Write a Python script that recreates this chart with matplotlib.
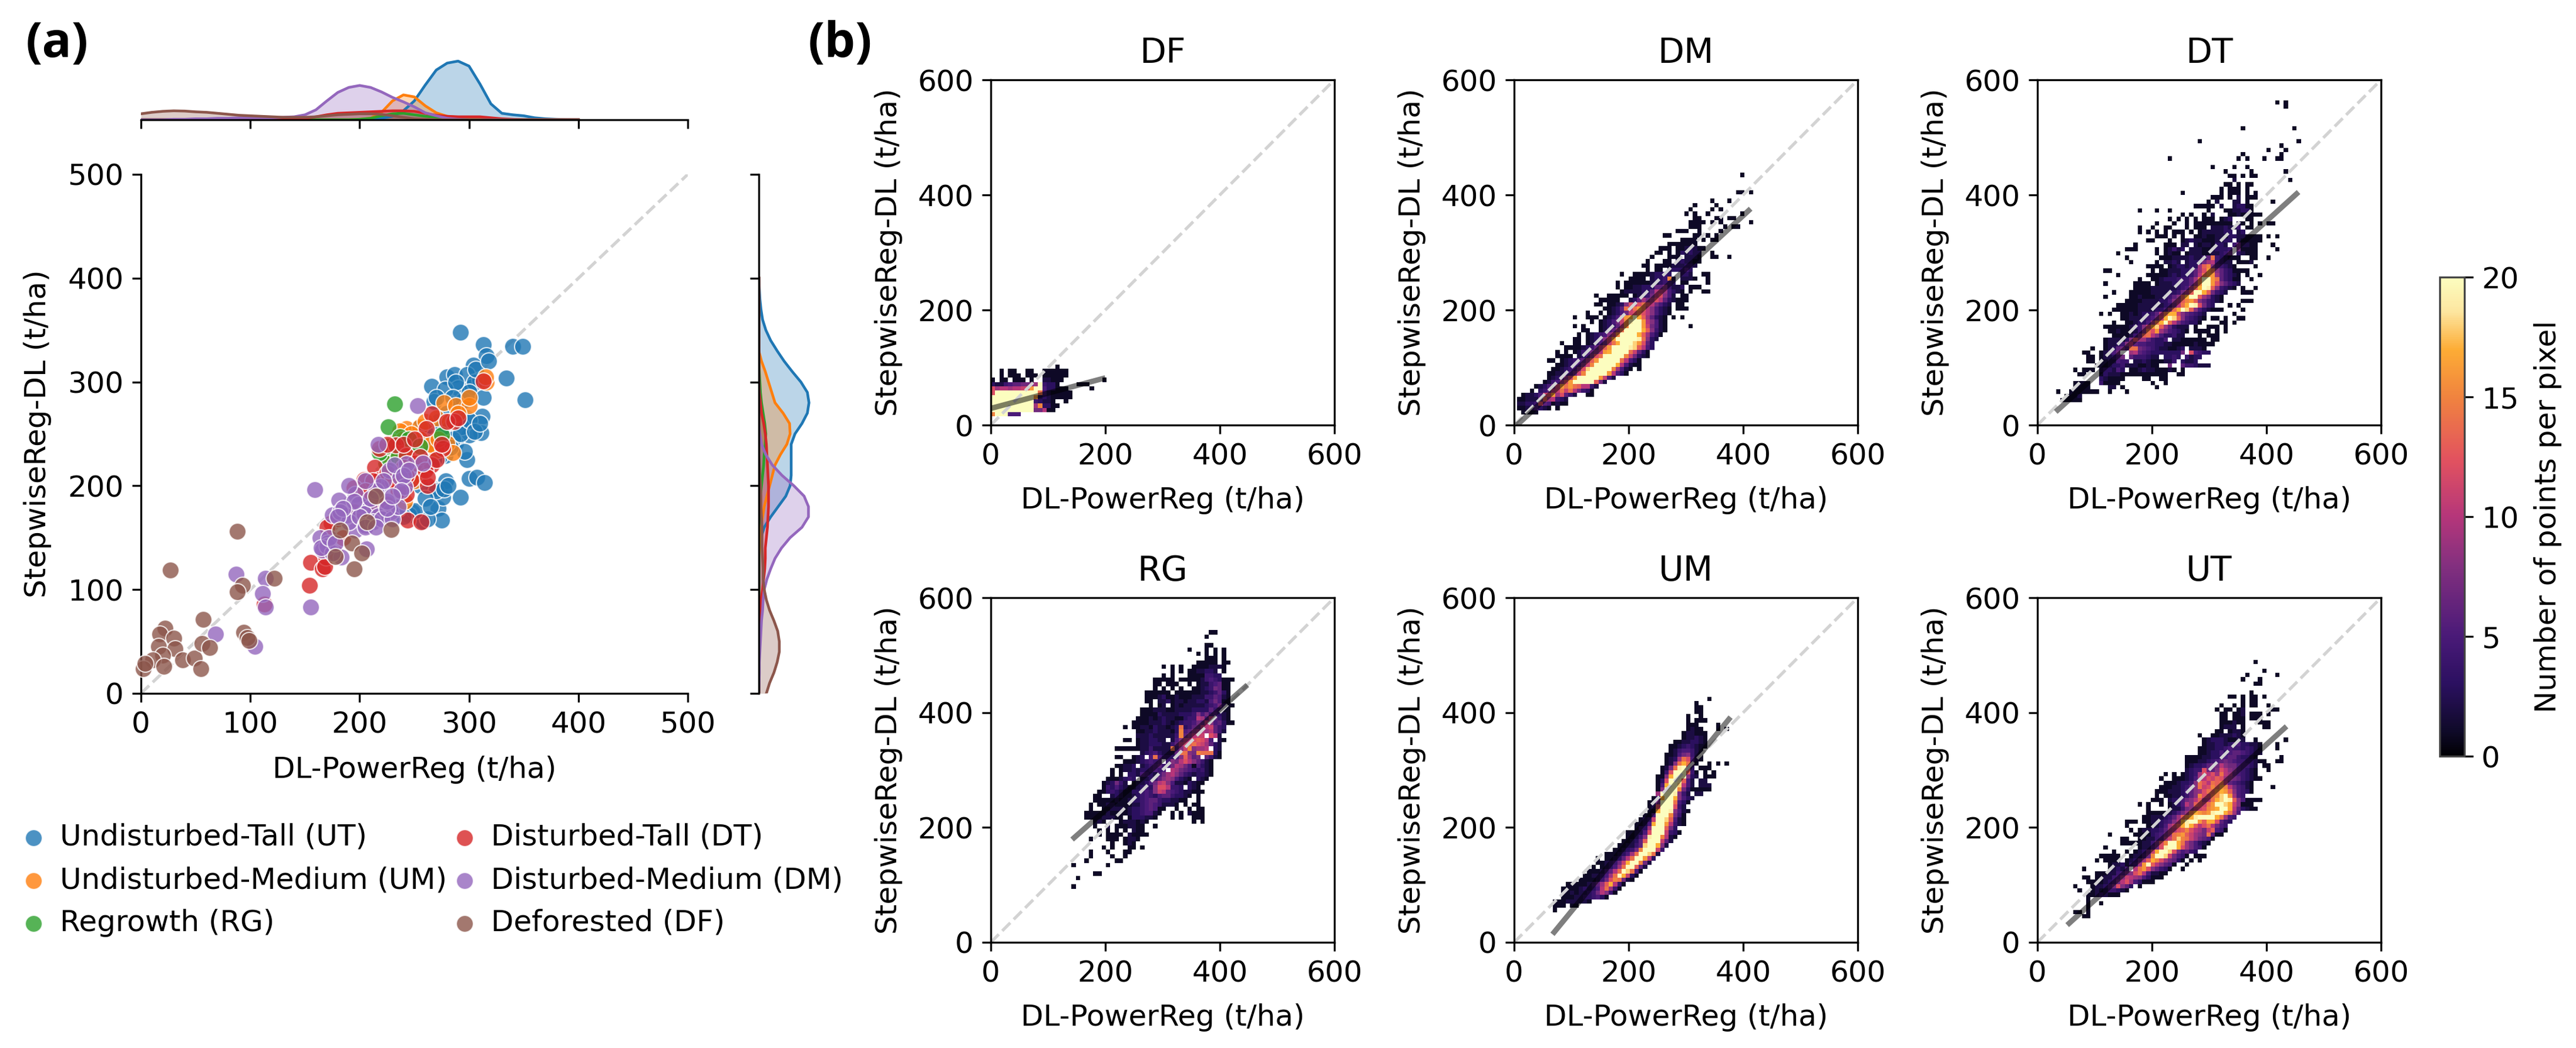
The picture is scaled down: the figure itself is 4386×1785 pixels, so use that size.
#!/usr/bin/env python3
"""Biomass comparison figure: joint scatter (a) and per-class density grids (b)."""
import matplotlib

matplotlib.use("Agg")
import matplotlib.pyplot as plt  # noqa: E402
import numpy as np  # noqa: E402
from matplotlib.colors import LinearSegmentedColormap  # noqa: E402

W, H = 4386, 1785
DPI = 300
XLABEL = "DL-PowerReg (t/ha)"
YLABEL = "StepwiseReg-DL (t/ha)"
BIN = 7.5

# --- panel (a) points
UT_X = [292, 313, 316, 340, 349, 334, 351, 304, 266, 280, 287, 298, 290, 303, 310, 268, 278, 312, 311, 300, 288, 298, 298, 300, 307, 314, 279, 292, 272, 275, 258, 276, 268, 253, 266, 278, 248, 283, 293, 258, 262, 270, 277, 281, 273, 270, 280, 258, 265, 272, 285, 292, 300, 305, 290, 280, 295, 305, 300, 288, 270, 285, 245, 250, 240, 235, 262, 275, 290, 246, 240, 250, 255, 260, 265, 268, 310, 296, 283, 313, 306, 318]
UT_Y = [348, 336, 325, 334, 334, 304, 283, 316, 296, 305, 307, 307, 294, 295, 302, 281, 293, 267, 251, 249, 241, 265, 225, 207, 208, 203, 205, 189, 178, 167, 166, 189, 197, 255, 232, 229, 175, 255, 257, 166, 168, 195, 197, 200, 228, 240, 245, 250, 258, 262, 245, 250, 263, 252, 275, 270, 282, 300, 290, 300, 285, 285, 172, 176, 170, 178, 240, 255, 265, 235, 215, 215, 200, 188, 180, 225, 260, 233, 237, 285, 312, 320]
UM_X = [316, 277, 288, 300, 243, 249, 237, 280, 270, 228, 241, 255, 232, 240, 247, 255, 260, 270, 282, 290, 230, 245, 238, 255, 250, 265, 285, 272, 300, 315]
UM_Y = [300, 280, 277, 277, 255, 246, 253, 241, 234, 227, 185, 257, 242, 245, 250, 245, 262, 265, 262, 270, 215, 230, 220, 210, 205, 240, 232, 245, 285, 305]
RG_X = [232, 226, 237, 275, 224, 218, 225, 245, 255, 235]
RG_Y = [279, 257, 247, 249, 222, 232, 238, 245, 238, 228]
DT_X = [313, 266, 286, 261, 233, 218, 276, 243, 214, 204, 247, 266, 262, 243, 174, 155, 166, 169, 154, 113, 244, 256, 218, 225, 240, 250, 255, 240, 225, 212, 195, 205, 215, 225, 235, 243, 260, 270, 280, 290, 195, 180, 205, 170, 168, 178, 185, 230, 262, 250, 275]
DT_Y = [301, 269, 262, 255, 239, 236, 236, 229, 218, 206, 206, 220, 200, 192, 164, 126, 120, 131, 104, 86, 167, 165, 206, 240, 240, 222, 228, 218, 212, 205, 198, 190, 180, 182, 195, 210, 215, 225, 262, 265, 175, 168, 195, 160, 122, 135, 150, 205, 208, 245, 240]
DM_X = [159, 87, 114, 111, 114, 155, 68, 104, 253, 217, 258, 227, 243, 237, 241, 181, 196, 199, 209, 219, 228, 189, 204, 217, 164, 171, 166, 183, 206, 196, 175, 182, 190, 200, 205, 212, 220, 230, 235, 225, 215, 205, 195, 185, 210, 222, 232, 240, 190, 180, 170, 175, 165, 172, 178, 205, 215, 225, 245, 238, 230]
DM_Y = [196, 115, 111, 96, 83, 83, 57, 45, 277, 240, 222, 215, 221, 208, 199, 186, 192, 182, 178, 199, 175, 172, 173, 171, 150, 145, 138, 131, 139, 157, 172, 175, 165, 170, 162, 165, 168, 168, 180, 185, 195, 205, 185, 178, 188, 205, 220, 210, 200, 170, 142, 135, 140, 150, 145, 160, 160, 178, 215, 195, 190]
DF_X = [27, 88, 93, 88, 57, 22, 17, 30, 16, 31, 20, 11, 38, 49, 56, 63, 55, 21, 2, 4, 94, 97, 99, 122, 182, 193, 202, 178, 195, 229, 207, 215]
DF_Y = [119, 156, 104, 98, 71, 63, 57, 53, 45, 43, 37, 32, 32, 34, 48, 44, 24, 26, 24, 29, 59, 54, 51, 111, 157, 145, 135, 132, 120, 158, 165, 190]

# --- panel (a) margins: curve heights at every 10 t/ha from 0 to 400
GRID = list(range(0, 410, 10))
TOP_UT = [0] * 20 + [0.5, 1, 3, 7, 18, 38, 70, 100, 114, 118, 108, 72, 32, 13, 10, 8, 4, 2, 1, 0.3, 0]
TOP_UM = [0] * 19 + [0, 1, 3, 15, 38, 50, 46, 28, 14, 7, 5, 4, 3, 3, 1, 0.5] + [0] * 6
TOP_RG = [0] * 19 + [0, 1, 3, 8, 12, 13, 10, 7, 5, 2, 1] + [0] * 11
TOP_DT = [0] * 13 + [1, 2, 3, 6, 10, 13, 14, 15, 16, 17, 18, 18, 17, 13, 9, 7, 6, 6, 6, 4, 2, 1] + [0] * 6
TOP_DM = [0, 0, 0, 1, 1, 2, 2, 3, 3, 4, 4, 4, 4, 5, 6, 10, 20, 38, 55, 65, 69, 65, 56, 45, 36, 26, 14, 8, 3, 1] + [0] * 11
TOP_DF = [12, 15, 17, 18, 17.5, 16, 15, 13, 11, 9, 8, 7, 6, 5, 5, 5, 6, 8, 10, 11, 12, 12, 11, 8, 5, 2, 1] + [0] * 14

RIGHT_UT = [0] * 14 + [1, 4, 10, 22, 36, 50, 58, 60, 60, 60, 60, 67, 80, 90, 93, 90, 78, 62, 47, 34, 22, 13, 7, 4, 2, 1, 0]
RIGHT_UM = [0] * 14 + [1, 2, 4, 7, 10, 15, 20, 25, 30, 40, 52, 58, 57, 45, 30, 24, 18, 12, 5] + [0] * 8
RIGHT_RG = [0] * 17 + [1, 2, 3, 5, 7, 9, 10, 12, 13, 11, 8, 5, 3, 2, 1] + [0] * 9
RIGHT_DT = [0] * 6 + [0.5, 1, 3, 4, 7, 9, 11, 12, 12, 14, 16, 17, 18, 18, 18, 17, 16, 15, 14, 12, 9, 5, 3, 1] + [0] * 11
RIGHT_DM = [0, 0.5, 1, 1, 2, 3, 4, 5, 7, 8, 10, 15, 22, 30, 42, 58, 80, 92, 92, 84, 65, 43, 25, 13, 5, 2] + [0] * 15
RIGHT_DF = [14, 20, 28, 34, 38, 38, 35, 28, 20, 14, 10, 8, 8, 7, 6, 6, 6, 5, 4, 4, 3, 2, 1] + [0] * 18

# --- panel (b) grids. One string per row from the top, "col:counts" runs,
# counts as 1-9 then a=10 ... k=20
DF_X0, DF_YTOP = 0, 105
DF_ROWS = [
    "15:1",
    "2:1 4:11 8:11 12:111111",
    "2:1 4:111 8:111 12:111111",
    "0:1 2:11 5:111 9:1 12:22111 26:1",
    "0:3 1:22 3:4 4:5 5:66 7:778 10:9 11:k 12:433 15:1 20:111",
    "0:c 1:9aa 4:9a 6:ab 8:c 9:g 10:k 11:k 12:533 15:111 23:1",
    "0:c 1:kkkkkkkkk 10:k 11:e 12:42 14:11111",
    "0:kkkkkkkkkk 10:g 11:2 12:3 13:21 15:111 18:1",
    "0:kkkkkkkkkk 10:43 12:22 14:1 17:1",
    "0:kkkkkkkkkk 10:9 11:f 12:3 13:31 15:1",
    "0:kkkkkkkkkk 10:77 12:a 13:1 14:1",
    "0:f 1:kkk 4:5 5:55",
]

DM_X0, DM_YTOP = 12.3, 438.5
DM_ROWS = [
    "51:1", "", "", "",
    "50:11 53:1",
    "",
    "44:1 48:1",
    "40:1 45:1",
    "39:1 44:1 46:1",
    "38:1 40:1 43:1 51:1",
    "40:11 45:1 46:1 48:11",
    "39:111 42:1 44:1 46:1 53:1",
    "39:111 47:1 49:11",
    "36:111 41:1 46:1",
    "33:11 40:11 43:1 45:1",
    "37:1111 42:1 44:11",
    "34:111111 39:11",
    "32:111 36:1 37:123211",
    "31:11 34:1 36:132322 44:1",
    "30:1 34:111 38:2 39:2 40:21 44:11 48:1",
    "29:1 33:11 36:2322 40:1 41:1",
    "28:11 31:111 34:1222332",
    "29:1 31:1 32:1 34:233353",
    "23:1 26:1111 30:23343 37:332 42:11",
    "25:1111 30:23 32:344 34:f 35:2 37:222 40:1 43:1",
    "22:1 24:111111 30:22 32:3443 37:1 38:1 43:1",
    "22:1 24:1 25:122 28:333 31:66 33:8 34:4 35:22 37:3 39:111",
    "23:1222 27:233 30:6a 32:a9 34:53 36:21 39:1 42:11",
    "17:1 20:11111 26:1 27:234 30:7 31:a 32:c 33:8 34:5 35:2 37:11",
    "18:11111 25:2 26:3 27:6 28:9 29:7 30:9 31:c 32:a 33:6 34:3 35:2 36:111",
    "17:11 20:1123 24:8caceca7532 36:11",
    "19:1 20:123 23:6eaegea8532 34:1 36:111",
    "15:1 18:1 20:123 23:5 24:7bc 27:e 28:ca 30:8 31:5 32:321",
    "12:1 15:111 19:123 22:5 23:cgh 26:k 27:h 28:d 29:9 30:6 31:3 32:21 35:1 37:1",
    "16:1 18:1235 22:7 23:bfjk 27:kg 29:a 30:85 32:21",
    "12:1 14:1 18:1234 22:6 23:afkkkg 29:b 30:75 32:21 39:1",
    "14:11 18:1246 22:9ekkkkh 29:d 30:8 31:421",
    "13:1 15:1234 19:5 20:8 21:afkkkkh 28:d 29:9 30:531",
    "12:1 13:1 15:1235 19:8bgkkkkkj 28:e 29:8 30:32",
    "9:1 12:11 15:1235 19:7behkkkig 28:c 29:63",
    "10:111 13:123 16:46 18:adgkkkkji 27:d 28:a 29:53",
    "8:1 10:1 12:124 15:578a 19:ghkkkki 25:e 26:b 27:6 28:31",
    "8:111 11:1 13:235 16:8ce 19:kkkkkf 25:b 26:7 27:32 29:1",
    "6:11 9:123 12:456 15:9dgk 19:kkkke 24:a 25:53 27:1",
    "8:11 10:234 13:58b 16:fkkkkkh 23:a 24:5 25:21 27:1",
    "7:112 10:345 13:8c 15:ikkkkkf 22:9 23:5 24:2 25:1 27:1",
    "6:1122 10:457 13:bfkkkkkg 21:a 22:53 24:1",
    "6:123 9:58 11:bg 13:kkkkkg 19:b 20:5 21:2",
    "5:124 8:59 10:cg 12:kkkkkd 18:7 19:2",
    "3:1 4:235 7:7bg 10:eg 12:ed 14:a 15:a 16:4 17:2",
    "2:1 4:346 7:abeb 11:e 12:a 13:7 14:4 15:3 16:1",
    "0:1 1:223 4:5 5:b 6:cg 8:9 9:c 10:6 11:4 12:2 15:11",
    "-1:11222 4:6 5:d 6:9 7:a 8:4 9:3 10:2",
    "-1:2233 3:4 4:c 5:6 6:5 7:11 8:2 9:1 10:1",
    "-1:1123 3:5 4:3 5:2 6:1 8:1",
    "0:11 2:1 3:1",
]

DT_X0, DT_YTOP = 62.6, 564.5
DT_ROWS = [
    "47:1 49:1", "49:1", "",
    "", "", "",
    "39:1 51:1",
    "", "",
    "29:1 52:1",
    "48:1",
    "45:1 49:1",
    "39:1 48:1",
    "22:1 38:1 40:1 44:1 47:11",
    "",
    "32:1 37:1 40:1",
    "35:1 41:1 49:1",
    "36:11 39:1 41:11",
    "37:2 50:1",
    "35:11 38:1 40:11",
    "34:1 36:11 38:1 40:1",
    "25:1 34:1 36:11 38:1 40:1 42:1",
    "32:11 34:1 36:1 38:2 40:111",
    "31:1 33:2 37:22 40:1 46:1",
    "28:11111 34:2 37:23311",
    "15:1 19:1 22:1 31:1 35:1122331",
    "25:1 27:1 30:1 32:2 36:11211111",
    "22:1 24:1 26:1 28:1 30:111 34:123 40:11",
    "19:1 23:1 26:1 28:111111111 38:21 41:1 43:1 45:11",
    "15:1 18:1 21:11 26:1 28:111 32:2223224 40:11",
    "15:1 17:1 19:1 21:1 23:111 27:1 29:12222233 38:23",
    "19:111 23:1 25:1 28:11211221 36:3322 40:111 43:1 45:1 47:1",
    "17:11 22:1 25:12322111 33:2233 38:211111",
    "14:1 21:111 25:22 28:21221 33:332 37:4722 41:11 46:1",
    "12:111 19:1 21:12423 27:222112 33:3334 38:71111 47:1",
    "10:1 19:1 21:1211 26:1222112 33:2346 38:3211 42:1",
    "12:1 20:1112222322 30:46e43 35:2111 41:11 45:1",
    "13:1 19:1 21:2232 26:2334 30:79a4322 38:11 40:12",
    "17:1111 22:1233 26:2334 29:9df8543 36:21 42:1",
    "7:11 18:1 20:1122 24:2334 28:69cge 33:8643 37:1111",
    "10:1 17:11111 22:2323 26:34 28:6aegg9 34:6432 38:1 40:1 43:1",
    "15:1 18:1123 22:3344 26:46 28:9ekkge 34:643 37:1 38:1 41:1",
    "7:1 14:1111 19:1222 23:3344 27:69fkkgc 34:86432",
    "14:1111222222 24:3459dhkjd8 34:4321 39:1 42:1",
    "9:1 13:111112222 22:3 23:3479dkkhd7 33:432 39:111",
    "7:1 13:112 16:111223 22:468dhkkd97 32:321",
    "12:1111222233 22:589dfgd86 31:4321 34:1 39:111",
    "10:111112222 19:2234 23:7aehkjc7 31:43 36:1 38:1",
    "9:111111222 18:233 21:59ehkid85 30:321 32:111 39:1",
    "6:1 8:1 11:11212 16:33 18:46aehhb865 28:432 37:1",
    "11:11222 16:345 19:7bhkid85 27:4321 32:11 35:1 38:11",
    "9:1 12:1123 16:3 17:59ehkea75 26:4331 34:11 37:1",
    "7:1111 11:1124 15:4 16:8bgid964 23:3222 28:1 31:111 35:1",
    "8:11211 13:124 16:8ecg9754 24:321 28:1111 33:1 35:1",
    "9:111 12:12 14:47de 18:a85334 24:22 29:1 31:111",
    "7:12221 12:38 14:c9 16:96 18:4335 23:2211 27:1111 32:11",
    "7:122 10:3 11:48 13:a6 15:5544332 22:2111 26:112 29:11 31:11",
    "4:1 7:12 9:36 11:7 12:5ee7 16:6543 20:22 22:111 24:23 27:2221",
    "2:11 6:1 7:24 9:5 10:7 13:9 14:a654 18:3333 22:3337 27:c5433",
    "3:11 6:12 8:23 10:5 11:7 13:6 14:444 17:3 18:22 21:3343 26:4233",
    "3:1 4:1 6:11 8:22 10:544 14:2232 18:111 21:22 23:4 25:322 28:3",
    "5:1 6:11 8:2 9:3 10:34 12:222 15:112 18:11 22:7 25:6443222",
    "0:1 2:11 4:1 6:2 7:332 10:5 11:3 13:112322 19:111 22:2 23:1 25:1",
    "1:11 6:1 7:3222 11:1 12:111 15:111 18:1111 24:11",
    "6:32 8:11 10:11 16:11 20:11",
    "0:1111 6:411 9:11 18:1 21:1",
    "0:1111 8:22 11:1 19:1",
    "-4:1 -1:11111 3:11 5:1 8:1 12:1",
    "-2:1112",
    "-3:11111",
]

RG_X0, RG_YTOP = 126, 543.5
RG_ROWS = [
    "34:11",
    "33:1",
    "",
    "33:11",
    "29:1 33:1 35:1 37:1",
    "31:1 33:1 35:1 37:1",
    "33:11 35:1 37:1",
    "31:11111 37:11",
    "23:1 25:1 27:1 30:1111222 37:1",
    "25:1 27:1 29:11 31:22332 37:1",
    "23:1 25:1 29:1111 33:4433",
    "21:11111 27:11 29:1112 33:45431 38:11",
    "21:11 24:111 29:1 31:122 34:456 37:1 38:1",
    "21:1 23:1 25:1 27:1 30:11 32:234 35:76 37:1 38:1",
    "19:1111 23:1 24:1 26:111 29:111 32:22347 36:631",
    "19:111 22:23 24:11 26:2111 30:22 32:24 34:465 37:21",
    "19:1 20:1 22:223 25:1 26:22 28:12233 33:25 35:75 37:11",
    "20:1 22:12 25:1 26:2 27:12222 32:23457 37:311 39:1",
    "18:1 19:11222 24:11222 29:23 31:3 32:33 34:6431 38:1",
    "18:111 21:1322 25:2233 29:34 31:85 33:74 35:532 38:1",
    "17:11121 22:2322 26:11 28:344 31:a95a 35:642 38:1",
    "16:1 17:111 20:22232 25:1 26:23 28:445 31:76a 34:8563 38:11",
    "14:1 16:1 17:12213 22:22 24:12 26:3e34 30:66aa8 34:b643",
    "17:1122 21:3222 25:1 26:3f5 29:689a 33:9a642",
    "17:222 20:3 21:222 24:2 25:24f6 29:8ab 32:b 34:ca 36:2",
    "14:11 17:122 20:33 22:22 25:258aacdca5 36:21",
    "17:1 18:2233 22:3 23:22 25:46abdecb963 36:2",
    "12:111111 18:224222 24:2e58bf899a 35:32",
    "18:2 19:345 22:322 25:26ee87 31:fe 33:ee7 35:31",
    "12:11 16:1 17:23 20:5e533 25:358d967 33:64 35:21",
    "14:1 15:11 17:234 20:545 24:487aca8643 33:21",
    "12:11 14:22 16:3 18:234 21:564 24:57a975 30:1 31:5321",
    "11:1 13:1 14:2232 18:334 21:545 25:a97654 31:3421",
    "11:1 13:1 15:33 17:2 18:5432 22:579a864 29:32 31:3321",
    "10:111 13:2343 18:2234 22:689 25:8532 29:1 31:321",
    "9:1 10:237 13:42 16:122 19:357ab 24:852 27:21 29:321 32:1",
    "9:1 10:435 13:3 14:21 16:1 17:234 20:38cca 25:44 27:3 29:321",
    "8:11 10:343 13:2 14:11 16:334 19:548ba 24:654 27:3 28:2 29:211 32:1",
    "7:11 11:23 13:2 14:11 16:2345 20:4356 24:6433 28:21 31:1",
    "7:1111 11:12 13:11 15:2 16:3 17:345664332 26:2 27:11 31:1",
    "6:1 8:11 9:1221 13:111 16:22 18:456542 24:22 26:1 28:1 30:11",
    "6:1 9:1122 13:212 16:3 17:345651 23:1 26:1 29:1 31:11",
    "5:1 6:111 9:1211 13:1 14:12334 19:5521 25:1 27:1 29:21 31:11",
    "5:111122 11:2 12:1 13:1 15:1 16:3332 20:2 21:1 25:1 27:1 30:111",
    "7:1 8:21 13:1 14:2 15:2 16:2 17:12 19:1 30:1 32:1",
    "7:1 10:2 12:1 13:11 15:22 17:11 21:1",
    "8:1 10:1 12:1 14:1 16:2 17:11",
    "8:1 10:111 13:1 15:2 16:11 18:11",
    "6:1 10:11 12:1 14:1 15:22 17:1",
    "11:1 14:1 15:2 16:1",
    "9:1 11:1 15:11 18:1",
    "6:1 10:1 14:11",
    "6:1 11:1 14:1",
    "5:1 12:11",
    "2:1 10:1",
    "",
    "7:11",
    "3:1",
    "",
    "2:1",
]

UM_X0, UM_YTOP = 0, 427.5
UM_ROWS = [
    "45:1",
    "42:1",
    "42:11",
    "42:11",
    "40:1 43:1",
    "40:1 42:11 44:1",
    "40:111 47:1",
    "40:1211 47:1 49:1",
    "39:12211 44:1",
    "39:122321",
    "37:1122 41:3321",
    "36:1123 40:4321 44:1",
    "36:12 38:45 40:5421",
    "35:112 38:57 40:8421",
    "35:123 38:9e 40:c521",
    "35:12 37:8eh 40:e6 42:1 45:1 47:1 49:1",
    "34:12 36:7ejk 40:c 41:3 43:11 45:1",
    "34:14 36:ckkk 40:d 41:4 42:1 44:1 46:1",
    "33:11 35:8hkkk 40:8 41:32 44:11 46:1",
    "33:13 35:ckkj 39:d 40:5 41:2 43:22",
    "33:15 35:hkki 39:a 40:5 41:2 43:222",
    "33:18 35:jkkf 39:7 40:31 42:11 44:11",
    "33:9 34:kkkj 38:8 39:42 42:22",
    "32:13 34:hkkh 38:85 40:32",
    "31:11 33:7 34:kkke 38:53 40:1",
    "31:12 33:ckkkc 38:42",
    "31:11 33:hkkj 37:85 39:21",
    "30:11 32:5 33:kkkf 37:74 39:1",
    "29:1 30:2 31:3 32:bkkid 37:521",
    "28:111 30:25 32:hkkg 36:a421",
    "28:13 30:39 32:kkkd 36:73",
    "26:1 27:1 28:2 29:25 31:ckkkb 36:431",
    "26:1 27:12 29:48 31:jkkf 35:a 36:21",
    "25:11 27:23 29:6 30:dkkkb 35:6 36:2",
    "24:111 26:22 28:46 30:ikkh 34:82",
    "23:11 25:23 27:47 29:fkkkb 34:4",
    "21:11 23:12 25:35 27:9 28:ekkie 33:2",
    "19:1 21:1 22:12 24:36 26:a 27:ekkg 31:a3",
    "19:11 21:23 23:4 24:7 25:b 26:hkkf 30:72",
    "18:1 20:12 22:35 24:9e 26:kkd 29:62",
    "17:1 18:11 20:24 22:6a 24:ekie 28:51",
    "16:11 18:22 20:35 22:9e 24:kh 26:b31",
    "15:1111 19:2 20:47 22:cf 24:e7 26:21",
    "12:11111 17:2 18:46 20:9d 22:ha41",
    "11:1111 15:23 17:23 19:5a 21:e941",
    "11:1121 15:22 17:34 19:7a 21:841",
    "11:1 12:1122 16:3 17:34 19:531",
    "9:11 11:12 13:22 15:22 17:1",
    "9:11 11:1 13:11",
    "9:1",
]

UT_X0, UT_YTOP = 62.6, 491.5
UT_ROWS = [
    "42:1", "", "44:1",
    "40:1 47:1",
    "39:1 43:1",
    "42:11",
    "",
    "41:1",
    "36:11 39:1 41:11 44:1",
    "39:1 41:11",
    "34:1 37:1 39:1 41:11 45:1",
    "33:1 35:11 38:12 46:11",
    "34:11 37:1 38:12 41:111 45:1",
    "34:11 37:11 39:1 41:11 43:1",
    "34:1112 38:11 43:111",
    "34:1222 39:1 44:11",
    "33:11 36:122 39:1",
    "29:1 32:1122 36:2321",
    "30:1233 34:3211 38:2 39:2 42:1 49:1",
    "30:122332345 39:33221 47:1",
    "29:112233454 38:434321 47:1",
    "29:1123353 36:56654322",
    "26:1111223345 36:66 38:43321 48:1",
    "26:11122345 34:676 37:544 40:33 42:211 47:11",
    "26:1233 30:4677 34:a87 37:754 40:43 42:2 44:11",
    "26:2344 30:c768 34:ca87 38:543 41:21 45:1",
    "21:1 23:1 25:1 26:234 29:9cac9 34:ea9654 40:321",
    "20:1 23:1 24:112 27:359acbdc987 38:643 41:21 43:1",
    "21:11123 26:348ecaedea6543 40:21",
    "20:1112 24:23468 29:ebcfdgfa754 40:21 46:1",
    "19:1112 23:223 26:5689 30:cedfhgd85 39:431",
    "19:1 21:112 24:234 27:68 29:fcb 32:efi 35:kg9 38:54",
    "18:111 22:2335 26:78ad9a 32:ehikjd85 40:1111",
    "15:1 17:1 20:1 22:123 25:5 26:a8 28:d 29:cb 31:e 32:gkkih 37:b85 39:11 41:1",
    "17:1 22:1224 26:78a 29:bcf 32:ghkkh 37:a6 39:3211",
    "17:11 19:1 20:112 23:35 25:79 27:ehgf 31:gjkkhe 37:95",
    "16:112 19:2 20:234 23:6 24:9 25:df 27:hjkk 31:kkhe9 36:54",
    "12:111 16:1122 20:3 21:45 23:8a 25:h 26:jkkgd 31:hhc 34:643",
    "12:1 17:1123 21:5 22:9 23:b 24:d 25:hjh 28:d 29:a 30:c 31:ea 33:754",
    "13:1 15:122 18:334 21:69 23:a 24:cdf 27:ca 29:97 31:bd 33:541",
    "8:1 14:1111 18:3457 22:9 23:efg 26:d 27:b 28:9 29:87 31:e 32:61 34:1",
    "11:1 12:1 15:1122 19:459 22:beif 26:eb 28:97 30:65 32:1",
    "11:1111 15:1 16:2 17:24 19:7 20:cfk 23:kh 25:e 26:97 28:5 29:3 30:21",
    "7:1 15:122 18:57 20:cjkkh 25:c 26:97 28:5 29:41",
    "9:1 12:1 14:123 17:6 18:bhkki 23:c 24:7 25:5 26:6 27:43",
    "6:1111 10:1 13:122 16:47 18:fkki 22:b 23:754 26:1 28:111",
    "5:1 7:1111 12:123 15:69 17:dhf 20:c9 22:76 24:31 27:1 29:1",
    "8:1223 12:134 15:9gk 18:da8 21:65 23:1 26:1",
    "2:1 8:123 11:25 14:a 15:eg 17:c8 19:643 22:1 25:1",
    "5:111 8:224 11:578 14:c 15:e 16:a 17:5 18:221 21:1",
    "2:11 5:1 6:1224 10:58 12:ba 14:9 15:8 16:53 18:1 19:11",
    "3:1 4:1 5:1123 9:47ac 13:9 14:53 16:11 18:1",
    "0:1 4:1223 8:5 9:7 10:c 11:8 12:6 13:3 15:1",
    "1:1 4:1 5:212 8:4 9:43 11:2 12:1",
    "3:1 4:1232 8:111",
    "3:1",
    "3:1 6:1",
    "3:1",
    "0:11 3:1",
    "2:11",
]

# regression line ends: x0, x1, y0, y1
FIT_DF = [0, 200, 29, 82]
FIT_DM = [5, 413, 0, 376]
FIT_DT = [32, 456, 23, 405]
FIT_RG = [142, 448, 179, 448]
FIT_UM = [67, 378, 14, 392]
FIT_UT = [52, 435, 30, 376]

CLASSES = ["Undisturbed-Tall (UT)", "Undisturbed-Medium (UM)", "Regrowth (RG)",
           "Disturbed-Tall (DT)", "Disturbed-Medium (DM)", "Deforested (DF)"]
COLORS = ["#1f77b4", "#ff7f0e", "#2ca02c", "#d62728", "#9467bd", "#8c564b"]

CMAP = LinearSegmentedColormap.from_list("density", [
    (0.00, "#000004"), (0.05, "#0f0a28"), (0.15, "#2b1060"), (0.25, "#4a1a78"),
    (0.40, "#84307f"), (0.50, "#b5367a"), (0.62, "#e2525f"), (0.75, "#f0833f"),
    (0.85, "#fdac35"), (0.93, "#fde6a0"), (1.00, "#fcfdbf"),
])


def axes_px(fig, left, top, right, bottom):
    """Axes from pixel edges measured on the 4386x1785 picture."""
    return fig.add_axes([left / W, 1 - bottom / H, (right - left) / W, (bottom - top) / H])


def parse_grid(rows):
    chars = "123456789abcdefghijk"
    cols = [int(t.split(":")[0]) for r in rows for t in r.split()]
    ends = [int(t.split(":")[0]) + len(t.split(":")[1]) for r in rows for t in r.split()]
    lo, hi = min(cols), max(ends)
    grid = np.zeros((len(rows), hi - lo))
    for i, r in enumerate(rows):
        for tok in r.split():
            c, vals = tok.split(":")
            for j, ch in enumerate(vals):
                grid[i, int(c) - lo + j] = chars.index(ch) + 1
    return lo, np.ma.masked_equal(grid, 0)


def density_panel(ax, title, x0, ytop, rows, fit):
    lo, grid = parse_grid(rows)
    xe = x0 + BIN * np.arange(lo, lo + grid.shape[1] + 1)
    ye = ytop - BIN * np.arange(grid.shape[0] + 1)
    mesh = ax.pcolormesh(xe, ye, grid, cmap=CMAP, vmin=0, vmax=20, linewidth=0, rasterized=True)
    ax.plot([0, 600], [0, 600], color="lightgray", ls="--", lw=1.25)
    ax.plot(fit[:2], fit[2:], color="black", alpha=0.5, lw=2.2, solid_capstyle="butt")
    ax.set_xlim(0, 600)
    ax.set_ylim(0, 600)
    ax.set_xticks([0, 200, 400, 600])
    ax.set_yticks([0, 200, 400, 600])
    ax.set_xlabel(XLABEL, labelpad=6.5)
    ax.set_ylabel(YLABEL, labelpad=6)
    ax.set_title(title, fontsize=14, pad=7)
    return mesh


def joint_panel(fig):
    ax = axes_px(fig, 240, 297, 1171, 1181)
    groups = [(UT_X, UT_Y), (UM_X, UM_Y), (RG_X, RG_Y), (DT_X, DT_Y), (DM_X, DM_Y), (DF_X, DF_Y)]
    handles = []
    for (xs, ys), col, name in zip(groups, COLORS, CLASSES):
        handles.append(ax.scatter(xs, ys, s=48, c=col, alpha=0.8, edgecolors="white",
                                   linewidths=0.5, label=name, clip_on=False, zorder=3))
    ax.plot([0, 500], [0, 500], color="lightgray", ls="--", lw=1.25, zorder=2)
    ax.set_xlim(0, 500)
    ax.set_ylim(0, 500)
    ax.set_xticks(range(0, 501, 100))
    ax.set_yticks(range(0, 501, 100))
    ax.set_xlabel(XLABEL, labelpad=7)
    ax.set_ylabel(YLABEL, labelpad=6.5)
    ax.spines["top"].set_visible(False)
    ax.spines["right"].set_visible(False)

    top = axes_px(fig, 240, 99, 1171, 204)
    curves = [TOP_UT, TOP_UM, TOP_RG, TOP_DT, TOP_DM, TOP_DF]
    for vals, col in zip(curves, COLORS):
        top.fill_between(GRID, 0, vals, color=col, alpha=0.3, lw=0)
        top.plot(GRID, vals, color=col, lw=1.1)
    top.set_xlim(0, 500)
    top.set_ylim(0, 124)
    top.set_xticks(range(0, 501, 100))
    top.set_xticklabels([])
    top.set_yticks([])
    for s in ("top", "left", "right"):
        top.spines[s].set_visible(False)

    right = axes_px(fig, 1292, 297, 1382, 1181)
    curves = [RIGHT_UT, RIGHT_UM, RIGHT_RG, RIGHT_DT, RIGHT_DM, RIGHT_DF]
    for vals, col in zip(curves, COLORS):
        right.fill_betweenx(GRID, 0, vals, color=col, alpha=0.3, lw=0)
        right.plot(vals, GRID, color=col, lw=1.1)
    right.set_ylim(0, 500)
    right.set_xlim(0, 98)
    right.set_yticks(range(0, 501, 100))
    right.set_yticklabels([])
    right.set_xticks([])
    for s in ("top", "bottom", "right"):
        right.spines[s].set_visible(False)

    fig.legend(handles=handles, ncol=2, frameon=False, fontsize=12, loc="upper left",
               bbox_to_anchor=(32 / W, 1 - 1402 / H), borderpad=0, borderaxespad=0,
               handlelength=1, columnspacing=0.1, handletextpad=0.4, labelspacing=0.5)


def main():
    plt.rcParams["font.size"] = 12
    fig = plt.figure(figsize=(W / DPI, H / DPI), dpi=DPI)
    joint_panel(fig)

    lefts = [1687, 2578, 3469]
    tops = [(136, 724), (1018, 1605)]
    panels = [
        ("DF", DF_X0, DF_YTOP, DF_ROWS, FIT_DF), ("DM", DM_X0, DM_YTOP, DM_ROWS, FIT_DM),
        ("DT", DT_X0, DT_YTOP, DT_ROWS, FIT_DT), ("RG", RG_X0, RG_YTOP, RG_ROWS, FIT_RG),
        ("UM", UM_X0, UM_YTOP, UM_ROWS, FIT_UM), ("UT", UT_X0, UT_YTOP, UT_ROWS, FIT_UT),
    ]
    mesh = None
    for i, (title, x0, ytop, rows, fit) in enumerate(panels):
        t, b = tops[i // 3]
        left = lefts[i % 3]
        ax = axes_px(fig, left, t, left + 585, b)
        mesh = density_panel(ax, title, x0, ytop, rows, fit)

    cax = axes_px(fig, 4154, 472, 4196, 1288)
    cbar = fig.colorbar(mesh, cax=cax, ticks=[0, 5, 10, 15, 20])
    cbar.set_label("Number of points per pixel", fontsize=12, labelpad=6)
    cbar.outline.set_edgecolor("#444444")

    fig.text(44 / W, 1 - 75 / H, "(a)", fontsize=20, fontweight="bold",
             family="Open Sans", va="center")
    fig.text(1376 / W, 1 - 75 / H, "(b)", fontsize=20, fontweight="bold",
             family="Open Sans", va="center")
    fig.savefig("out.png", dpi=DPI)


if __name__ == "__main__":
    main()
